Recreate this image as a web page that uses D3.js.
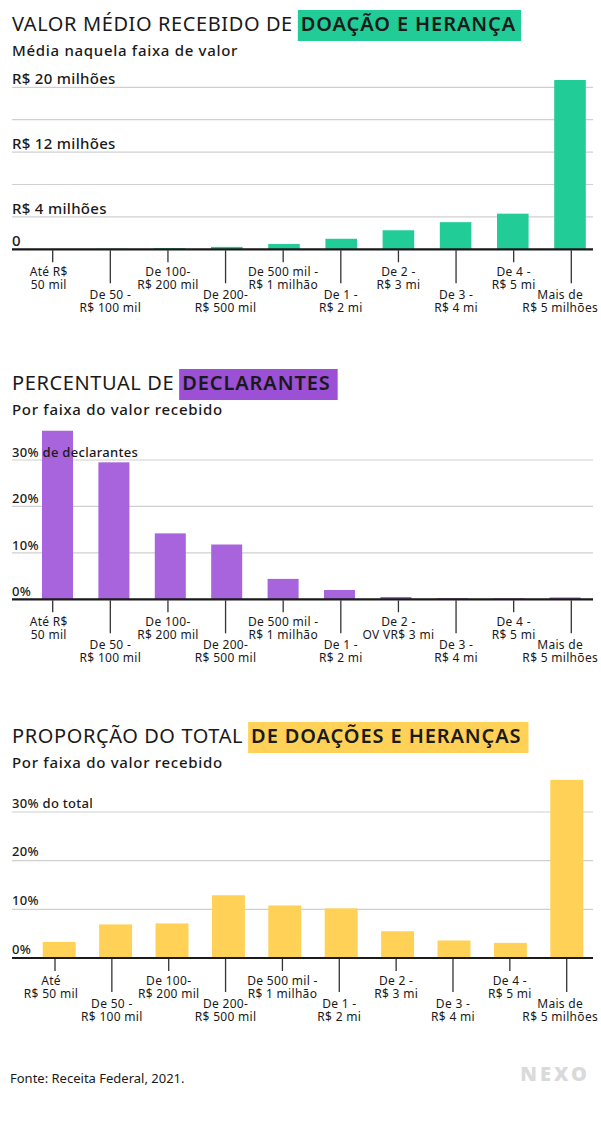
<!DOCTYPE html>
<html>
<head>
<meta charset="utf-8">
<script src="https://cdn.jsdelivr.net/npm/d3@7"></script>
<style>
    body { margin: 0; background: #fff; }
    svg text { font-family: "Noto Sans", sans-serif; fill: #1a1a1a; }
</style>
</head>
<body>
<svg id="nexo" width="601" height="1146"></svg>
<script>

// faixas de valor recebido (rótulos em duas linhas, como no original)
const faixasValor = [
    ["Até R$", "50 mil"], ["De 50 -", "R$ 100 mil"], ["De 100-", "R$ 200 mil"], ["De 200-", "R$ 500 mil"],
    ["De 500 mil -", "R$ 1 milhão"], ["De 1 -", "R$ 2 mi"], ["De 2 -", "R$ 3 mi"], ["De 3 -", "R$ 4 mi"],
    ["De 4 -", "R$ 5 mi"], ["Mais de", "R$ 5 milhões"]
];
const faixasDeclarantes = [
    ["Até R$", "50 mil"], ["De 50 -", "R$ 100 mil"], ["De 100-", "R$ 200 mil"], ["De 200-", "R$ 500 mil"],
    ["De 500 mil -", "R$ 1 milhão"], ["De 1 -", "R$ 2 mi"], ["De 2 -", "OV VR$ 3 mi"], ["De 3 -", "R$ 4 mi"],
    ["De 4 -", "R$ 5 mi"], ["Mais de", "R$ 5 milhões"]
];
const faixasTotal = [
    ["Até", "R$ 50 mil"], ["De 50 -", "R$ 100 mil"], ["De 100-", "R$ 200 mil"], ["De 200-", "R$ 500 mil"],
    ["De 500 mil -", "R$ 1 milhão"], ["De 1 -", "R$ 2 mi"], ["De 2 -", "R$ 3 mi"], ["De 3 -", "R$ 4 mi"],
    ["De 4 -", "R$ 5 mi"], ["Mais de", "R$ 5 milhões"]
];

// valor médio recebido, em R$ milhões
const valorMedio = [0.02, 0.07, 0.14, 0.3, 0.65, 1.3, 2.35, 3.35, 4.4, 20.9];
// % de declarantes
const pctDeclarantes = [36.3, 29.5, 14.2, 11.8, 4.4, 2.0, 0.5, 0.25, 0.2, 0.4];
// % do total de doações e heranças
const pctTotal = [3.3, 6.9, 7.1, 12.9, 10.8, 10.2, 5.5, 3.6, 3.1, 36.6];

// grades e rótulos do eixo y
const gradeValor = [0, 4, 8, 12, 16, 20];
const rotulosValor = [[20, "R$ 20 milhões"], [12, "R$ 12 milhões"], [4, "R$ 4 milhões"], [0, "0"]];
const gradePct = [0, 10, 20, 30];
const rotulosDeclarantes = [[30, "30% de declarantes"], [20, "20%"], [10, "10%"], [0, "0%"]];
const rotulosTotal = [[30, "30% do total"], [20, "20%"], [10, "10%"], [0, "0%"]];


const svg = d3.select("#nexo");

svg.append("rect")
    .attr("width", 601)
    .attr("height", 1146)
    .attr("fill", "#fff");

const drawChart = function (cfg) {

    const g = svg.append("g");

    // título com destaque colorido
    const titulo = g.append("text")
        .attr("x", 12)
        .attr("y", cfg.titleY)
        .attr("font-size", 20)
        .attr("letter-spacing", 0.6)
        .text(cfg.title);
    const w = titulo.node().getComputedTextLength();

    const box = g.append("rect")
        .attr("x", 12 + w + cfg.gap)
        .attr("y", cfg.titleY - 21)
        .attr("height", 31)
        .attr("fill", cfg.boxColor);
    const destaque = g.append("text")
        .attr("x", 12 + w + cfg.gap + 3)
        .attr("y", cfg.titleY)
        .attr("font-size", 20)
        .attr("font-weight", 600)
        .attr("letter-spacing", 0.9)
        .text(cfg.highlight);
    box.attr("width", destaque.node().getComputedTextLength() + cfg.boxPad);

    g.append("text")
        .attr("x", 12)
        .attr("y", cfg.titleY + 25)
        .attr("font-size", 15)
        .attr("font-weight", 500)
        .attr("letter-spacing", 0.7)
        .text(cfg.subtitle);

    const y = d3.scaleLinear()
        .domain(cfg.yDomain)
        .range(cfg.yRange);

    const x = d3.scaleBand()
        .domain(d3.range(cfg.values.length))
        .range(cfg.barRange)
        .paddingInner(cfg.pad)
        .paddingOuter(cfg.pad / 2);

    const xt = d3.scalePoint()
        .domain(d3.range(cfg.values.length))
        .range(cfg.tickRange);

    // linhas de grade
    g.append("g")
        .selectAll("line")
        .data(cfg.grid)
        .enter()
            .append("line")
            .attr("x1", 12)
            .attr("x2", 593)
            .attr("y1", function (d) { return y(d); })
            .attr("y2", function (d) { return y(d); })
            .attr("stroke", "#d0d0d0")
            .attr("stroke-width", 1.2);

    g.append("g")
        .selectAll("rect")
        .data(cfg.values)
        .enter()
            .append("rect")
            .attr("x", function (d, i) { return x(i); })
            .attr("width", x.bandwidth())
            .attr("y", function (d) { return y(d); })
            .attr("height", function (d) { return y(0) - y(d); })
            .attr("fill", cfg.color);

    // rótulos do eixo y, por cima das barras
    g.append("g")
        .selectAll("text")
        .data(cfg.yLabels)
        .enter()
            .append("text")
            .attr("x", 12)
            .attr("y", function (d) { return y(d[0]) - cfg.labelLift; })
            .attr("font-size", cfg.yFont)
            .attr("font-weight", 500)
            .attr("letter-spacing", 0.3)
            .text(function (d) { return d[1]; });

    const base = y(0);

    g.append("line")
        .attr("x1", 12)
        .attr("x2", 593)
        .attr("y1", base)
        .attr("y2", base)
        .attr("stroke", "#1a1a1a")
        .attr("stroke-width", 2.2);

    // marcas e rótulos alternados do eixo x
    const ticks = g.append("g")
        .selectAll("g")
        .data(cfg.labels)
        .enter()
            .append("g")
            .attr("transform", function (d, i) { return "translate(" + xt(i) + "," + base + ")"; });

    ticks.append("line")
        .attr("y1", 1)
        .attr("y2", function (d, i) { return i % 2 ? 34 : 13; })
        .attr("stroke", "#333")
        .attr("stroke-width", 1.3);

    const tickText = ticks.append("text")
        .attr("text-anchor", "middle")
        .attr("font-size", 12)
        .attr("letter-spacing", 0.3);

    tickText.selectAll("tspan")
        .data(function (d, i) {
            return d.map(function (s, k) { return { s: s, k: k, odd: i % 2 }; });
        })
        .enter()
            .append("tspan")
            .attr("x", 0)
            .attr("y", function (d) { return (d.odd ? 50 : 27) + d.k * 13; })
            .text(function (d) { return d.s; });

    // o primeiro rótulo fica um pouco à esquerda, o último encosta na borda
    tickText.attr("transform", function (d, i) {
        const bb = this.getBBox();
        let dx = 0;
        if (i === 0) dx = -4;
        if (xt(i) + bb.x + bb.width > 598) dx = 598 - (xt(i) + bb.x + bb.width);
        return "translate(" + dx + ",0)";
    });

    return true;
};


drawChart({
    title: "VALOR MÉDIO RECEBIDO DE",
    highlight: "DOAÇÃO E HERANÇA",
    subtitle: "Média naquela faixa de valor",
    titleY: 31, gap: 5, boxPad: 8,
    boxColor: "#21cc96", color: "#21cc96",
    values: valorMedio, labels: faixasValor,
    grid: gradeValor, yLabels: rotulosValor, yFont: 15, labelLift: 3,
    yDomain: [0, 20], yRange: [249.3, 87.3],
    barRange: [26.6, 598.6], pad: 0.448,
    tickRange: [52.7, 571.3]
});

drawChart({
    title: "PERCENTUAL DE",
    highlight: "DECLARANTES",
    subtitle: "Por faixa do valor recebido",
    titleY: 390, gap: 5, boxPad: 10,
    boxColor: "#9b50d6", color: "#a864dc",
    values: pctDeclarantes, labels: faixasDeclarantes,
    grid: gradePct, yLabels: rotulosDeclarantes, yFont: 13, labelLift: 3,
    yDomain: [0, 30], yRange: [599.3, 460],
    barRange: [29.3, 593.3], pad: 0.45,
    tickRange: [52.7, 571.3]
});

drawChart({
    title: "PROPORÇÃO DO TOTAL",
    highlight: "DE DOAÇÕES E HERANÇAS",
    subtitle: "Por faixa do valor recebido",
    titleY: 743, gap: 5, boxPad: 10,
    boxColor: "#ffd257", color: "#ffd257",
    values: pctTotal, labels: faixasTotal,
    grid: gradePct, yLabels: rotulosTotal, yFont: 13, labelLift: 4.5,
    yDomain: [0, 30], yRange: [958, 812],
    barRange: [31, 595], pad: 0.415,
    tickRange: [55, 566.7]
});


// rodapé
svg.append("text")
    .attr("x", 10)
    .attr("y", 1083)
    .attr("font-size", 13)
    .text("Fonte: Receita Federal, 2021.");

svg.append("text")
    .attr("x", 590)
    .attr("y", 1081)
    .attr("text-anchor", "end")
    .attr("font-size", 20)
    .attr("font-weight", 900)
    .attr("letter-spacing", 3)
    .style("fill", "#dadada")
    .text("NEXO");

</script>
</body>
</html>
